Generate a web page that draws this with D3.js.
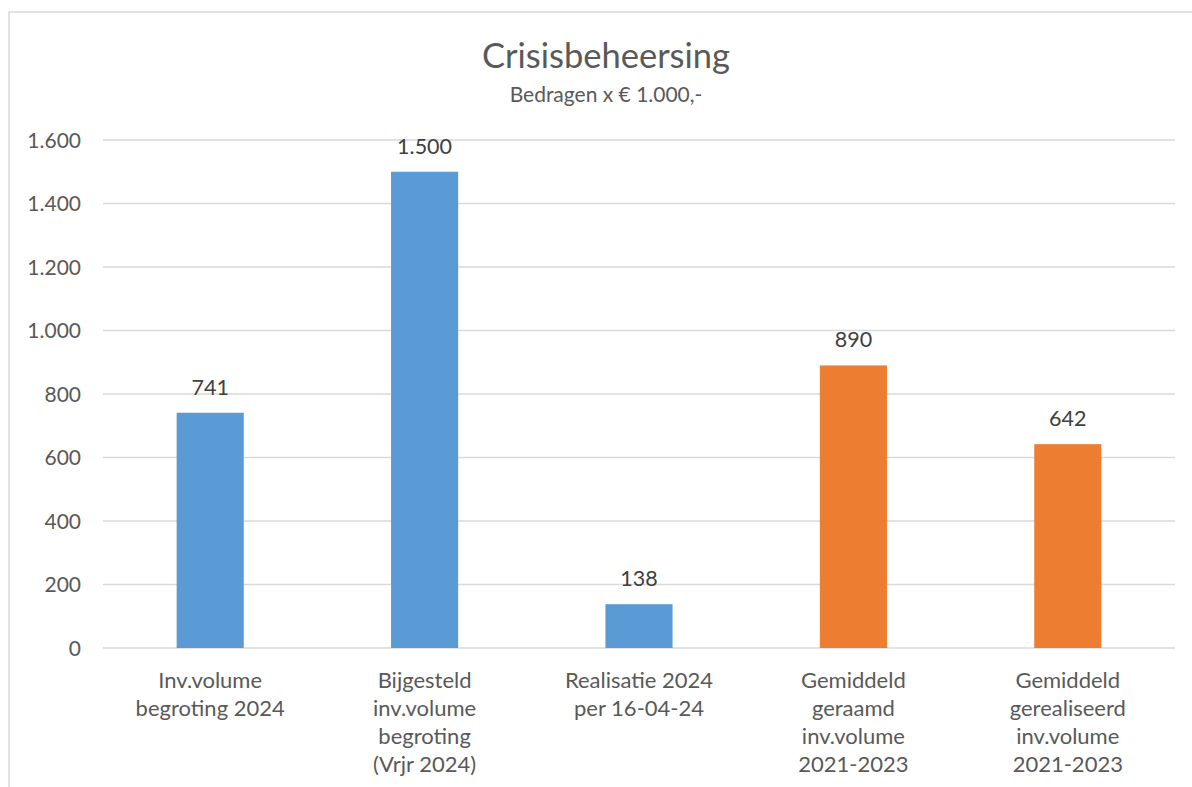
<!DOCTYPE html>
<html>
<head>
<meta charset="utf-8">
<script src="https://cdn.jsdelivr.net/npm/d3@7"></script>
<style>
  html, body { margin: 0; padding: 0; background: #fff; }
  svg { display: block; font-family: Lato, "Liberation Sans", sans-serif; }
</style>
</head>
<body>
<svg id="chart" width="1192" height="787"></svg>
<script>
const categories = [
  ["Inv.volume", "begroting 2024"],
  ["Bijgesteld", "inv.volume", "begroting", "(Vrjr 2024)"],
  ["Realisatie 2024", "per 16-04-24"],
  ["Gemiddeld", "geraamd", "inv.volume", "2021-2023"],
  ["Gemiddeld", "gerealiseerd", "inv.volume", "2021-2023"]
];
const values = [741, 1500, 138, 890, 642];
const labels = ["741", "1.500", "138", "890", "642"];
const barColors = ["#5B9BD5", "#5B9BD5", "#5B9BD5", "#ED7D31", "#ED7D31"];
const yTicks = [0, 200, 400, 600, 800, 1000, 1200, 1400, 1600];
const yTickLabels = ["0", "200", "400", "600", "800", "1.000", "1.200", "1.400", "1.600"];
const title = "Crisisbeheersing";
const subtitle = "Bedragen x € 1.000,-";

const svg = d3.select("#chart");
const textColor = "#595959";

// partial heading text cut off at top
svg.append("text").attr("x", 160).attr("y", -5)
  .attr("font-size", 26).attr("fill", "#000").text("g");

// chart area border
svg.append("rect").attr("x", 9).attr("y", 12).attr("width", 1200).attr("height", 800)
  .attr("fill", "none").attr("stroke", "#D9D9D9").attr("stroke-width", 1.5);

const x = d3.scaleBand().domain(d3.range(categories.length)).range([103, 1175])
  .paddingInner(0.687).paddingOuter(0.3435);
const y = d3.scaleLinear().domain([0, 1600]).range([648, 140]);

// gridlines
svg.append("g").selectAll("line").data(yTicks).join("line")
  .attr("x1", 103).attr("x2", 1175)
  .attr("y1", d => y(d)).attr("y2", d => y(d))
  .attr("stroke", "#D9D9D9").attr("stroke-width", 1.5);

// y axis labels
const yAxis = d3.axisLeft(y).tickValues(yTicks).tickFormat((d, i) => yTickLabels[i]).tickSize(0).tickPadding(0);
const ya = svg.append("g").attr("transform", "translate(81,0)").call(yAxis);
ya.select(".domain").remove();
ya.selectAll("text").attr("font-size", 21).attr("fill", textColor)
  .attr("font-family", "Lato, 'Liberation Sans', sans-serif").attr("dy", "0.35em");

// bars
svg.append("g").selectAll("rect").data(values).join("rect")
  .attr("x", (d, i) => x(i)).attr("width", x.bandwidth())
  .attr("y", d => y(d)).attr("height", d => y(0) - y(d))
  .attr("fill", (d, i) => barColors[i]);

// data labels
svg.append("g").selectAll("text").data(values).join("text")
  .attr("x", (d, i) => x(i) + x.bandwidth() / 2)
  .attr("y", d => y(d) - 18)
  .attr("text-anchor", "middle").attr("font-size", 21.5).attr("fill", "#404040")
  .text((d, i) => labels[i]);

// category labels
const cat = svg.append("g").selectAll("text").data(categories).join("text")
  .attr("x", (d, i) => x(i) + x.bandwidth() / 2)
  .attr("y", 688)
  .attr("text-anchor", "middle").attr("font-size", 22).attr("fill", textColor);
cat.selectAll("tspan").data(d => d).join("tspan")
  .attr("x", function() { return d3.select(this.parentNode).attr("x"); })
  .attr("dy", (d, i) => i === 0 ? 0 : 28)
  .text(d => d);

// title
svg.append("text").attr("x", 606).attr("y", 68).attr("text-anchor", "middle")
  .attr("font-size", 34.5).attr("fill", textColor).text(title);
svg.append("text").attr("x", 606).attr("y", 102).attr("text-anchor", "middle")
  .attr("font-size", 21).attr("fill", textColor).text(subtitle);
</script>
</body>
</html>
